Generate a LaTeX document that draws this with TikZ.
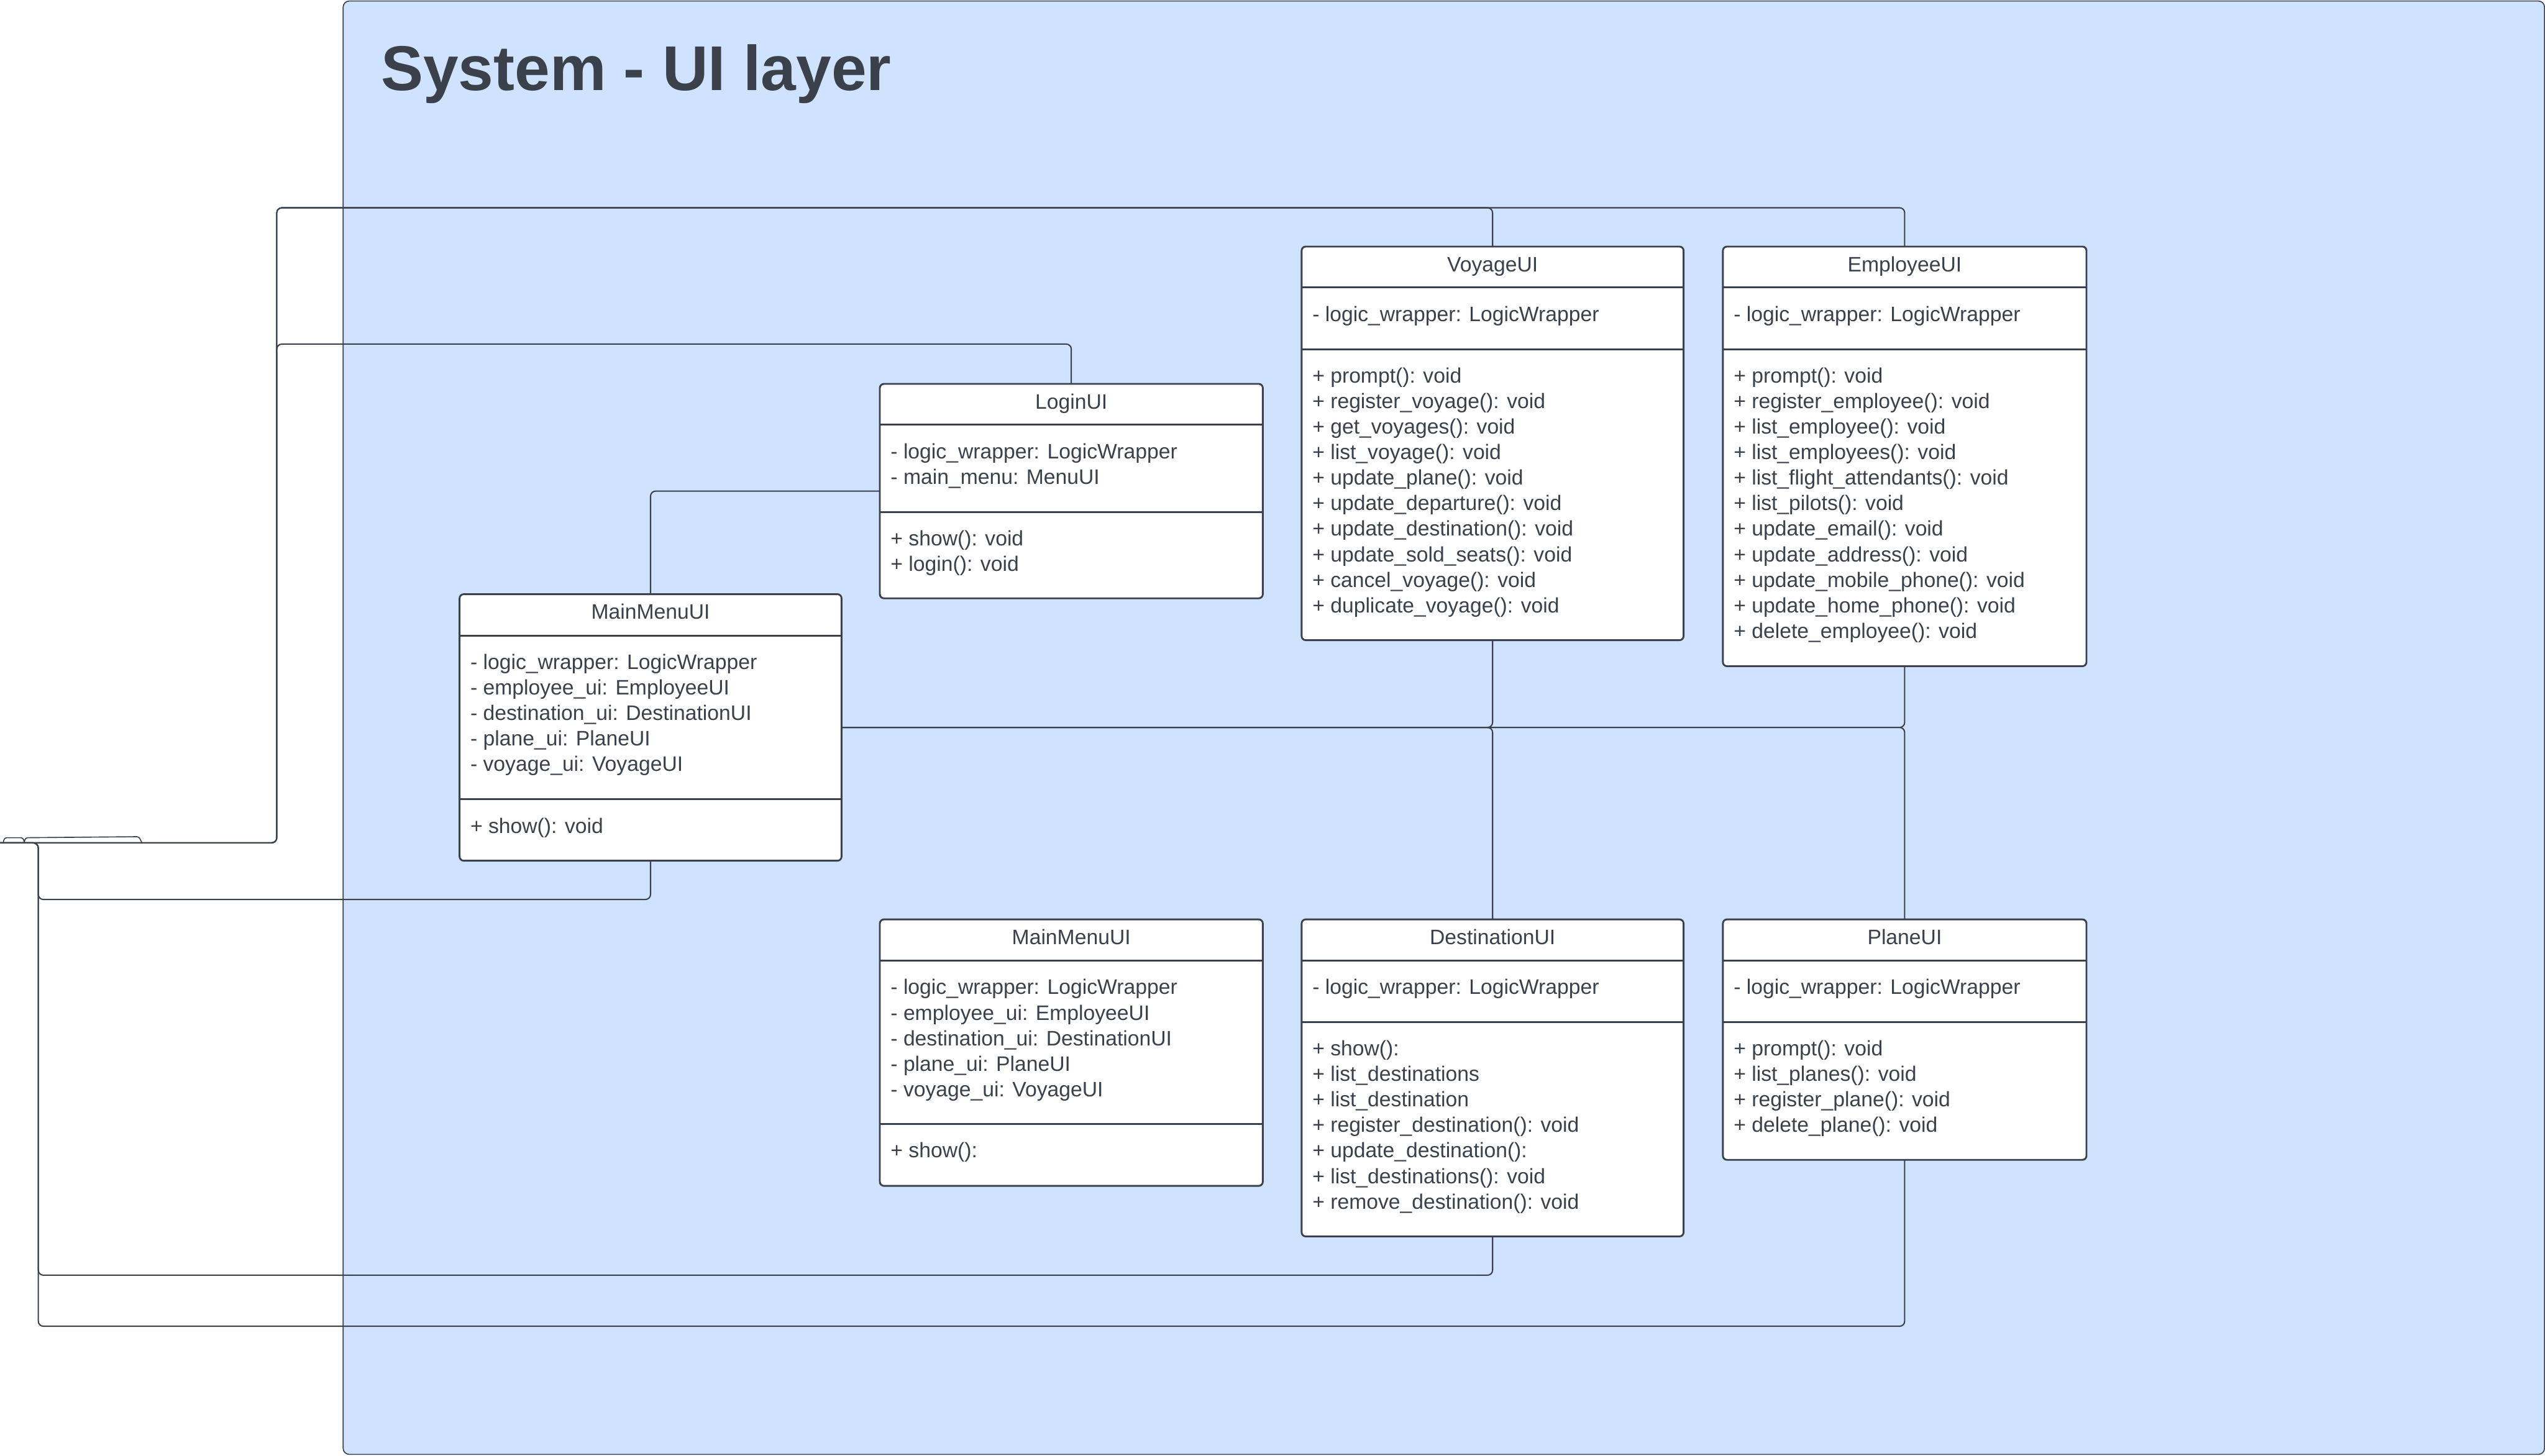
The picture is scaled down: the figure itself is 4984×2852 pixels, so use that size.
\documentclass[tikz,border=0pt]{standalone}
\usepackage{fontspec}
\setmainfont{Liberation Sans}
\definecolor{ink}{HTML}{3A414A}
\definecolor{layer}{HTML}{CFE2FF}
\pgfdeclarelayer{back}
\pgfdeclarelayer{wires}
\pgfsetlayers{back,wires,main}
\tikzset{
  conn/.style={draw=ink, line width=2.5pt, rounded corners=10pt},
  bump/.style={draw=ink, line width=2pt, rounded corners=4pt},
  layerbox/.style={draw=ink, fill=layer, line width=2pt, rounded corners=12pt},
  classbox/.style={draw=ink, fill=white, line width=3.5pt, rounded corners=8pt, anchor=north west, inner sep=0pt, outer sep=0pt},
  divline/.style={draw=ink, line width=3.5pt},
  member/.style={anchor=base west, inner sep=0pt, text=ink, font=\fontsize{41}{49}\selectfont},
  ctitle/.style={anchor=base, inner sep=0pt, text=ink, font=\fontsize{41}{49}\selectfont},
  bigtitle/.style={anchor=base west, inner sep=0pt, text=ink, font=\fontsize{124}{130}\selectfont\bfseries},
}
% name, x1, y1, x2, y2, divider1, divider2, title
\newcommand\umlbox[8]{%
  \node[classbox, minimum width={#4pt-#2pt}, minimum height={#5pt-#3pt}] (#1) at (#2,#3) {};
  \draw[divline] (#2,#6) -- (#4,#6);
  \draw[divline] (#2,#7) -- (#4,#7);
  \node[ctitle] (#1-title) at ({(#2+#4)/2},{#3+49}) {#8};
}
% name prefix, x, first baseline, list of lines
\newcommand\umlmembers[4]{%
  \foreach \t [count=\i] in {#4} {\node[member] (#1\i) at (#2,{#3+(\i-1)*50}) {\t};}
}
\begin{document}
\begin{tikzpicture}[x=1pt,y=-1pt]
\useasboundingbox (0,0) rectangle (4984,2852);
% layer frame
\begin{pgfonlayer}{back}
\draw[layerbox] (672,2) rectangle (4983,2849);
\end{pgfonlayer}
\node[bigtitle] (title) at (746,177) {System - UI layer};

% class boxes
\umlbox{mm1}{900}{1164}{1648}{1686}{1245}{1565}{MainMenuUI}
\umlbox{login}{1723}{752}{2473}{1172}{832}{1003}{LoginUI}
\umlbox{mm2}{1723}{1801}{2473}{2323}{1882}{2202}{MainMenuUI}
\umlbox{voy}{2549}{483}{3297}{1254}{563}{684}{VoyageUI}
\umlbox{emp}{3374}{483}{4086}{1305}{563}{684}{EmployeeUI}
\umlbox{dest}{2549}{1801}{3297}{2422}{1882}{2002}{DestinationUI}
\umlbox{plane}{3374}{1801}{4086}{2272}{1882}{2002}{PlaneUI}

% connectors
\begin{pgfonlayer}{wires}
\coordinate (src) at (0,1651);
\coordinate (jl) at (542,1651);
\coordinate (jd) at (75,1651);
\draw[conn] (src) -- (jl) -- (542,407) -| (voy.north);
\draw[conn] (src) -- (jl) -- (542,407) -| (emp.north);
\draw[conn] (src) -- (jl) -- (542,674) -| (login.north);
\draw[conn] (login.west) -| (mm1.north);
\draw[conn] (mm1.east) -| (voy.south);
\draw[conn] (mm1.east) -| (dest.north);
\draw[conn] (mm1.east) -| (emp.south);
\draw[conn] (mm1.east) -| (plane.north);
\draw[conn] (src) -- (jd) -- (75,1762) -| (mm1.south);
\draw[conn] (src) -- (jd) -- (75,2498) -| (dest.south);
\draw[conn] (src) -- (jd) -- (75,2598) -| (plane.south);
\draw[bump] (6,1651) -- (9,1641) -- (45,1641) -- (48,1651);
\draw[bump] (47,1651) -- (50,1641) -- (272,1639) -- (278,1651);
\end{pgfonlayer}

% members
\umlmembers{mm1a}{921}{1311}{{- logic\_wrapper: LogicWrapper},{- employee\_ui: EmployeeUI},{- destination\_ui: DestinationUI},{- plane\_ui: PlaneUI},{- voyage\_ui: VoyageUI}}
\umlmembers{mm1m}{921}{1632}{{+ show(): void}}

\umlmembers{logina}{1744}{899}{{- logic\_wrapper: LogicWrapper},{- main\_menu: MenuUI}}
\umlmembers{loginm}{1744}{1069}{{+ show(): void},{+ login(): void}}

\umlmembers{mm2a}{1744}{1948}{{- logic\_wrapper: LogicWrapper},{- employee\_ui: EmployeeUI},{- destination\_ui: DestinationUI},{- plane\_ui: PlaneUI},{- voyage\_ui: VoyageUI}}
\umlmembers{mm2m}{1744}{2268}{{+ show():}}

\umlmembers{voya}{2570}{630}{{- logic\_wrapper: LogicWrapper}}
\umlmembers{voym}{2570}{750}{{+ prompt(): void},{+ register\_voyage(): void},{+ get\_voyages(): void},{+ list\_voyage(): void},{+ update\_plane(): void},{+ update\_departure(): void},{+ update\_destination(): void},{+ update\_sold\_seats(): void},{+ cancel\_voyage(): void},{+ duplicate\_voyage(): void}}

\umlmembers{empa}{3395}{630}{{- logic\_wrapper: LogicWrapper}}
\umlmembers{empm}{3395}{750}{{+ prompt(): void},{+ register\_employee(): void},{+ list\_employee(): void},{+ list\_employees(): void},{+ list\_flight\_attendants(): void},{+ list\_pilots(): void},{+ update\_email(): void},{+ update\_address(): void},{+ update\_mobile\_phone(): void},{+ update\_home\_phone(): void},{+ delete\_employee(): void}}

\umlmembers{desta}{2570}{1948}{{- logic\_wrapper: LogicWrapper}}
\umlmembers{destm}{2570}{2068}{{+ show():},{+ list\_destinations},{+ list\_destination},{+ register\_destination(): void},{+ update\_destination():},{+ list\_destinations(): void},{+ remove\_destination(): void}}

\umlmembers{planea}{3395}{1948}{{- logic\_wrapper: LogicWrapper}}
\umlmembers{planem}{3395}{2068}{{+ prompt(): void},{+ list\_planes(): void},{+ register\_plane(): void},{+ delete\_plane(): void}}
\end{tikzpicture}
\end{document}
